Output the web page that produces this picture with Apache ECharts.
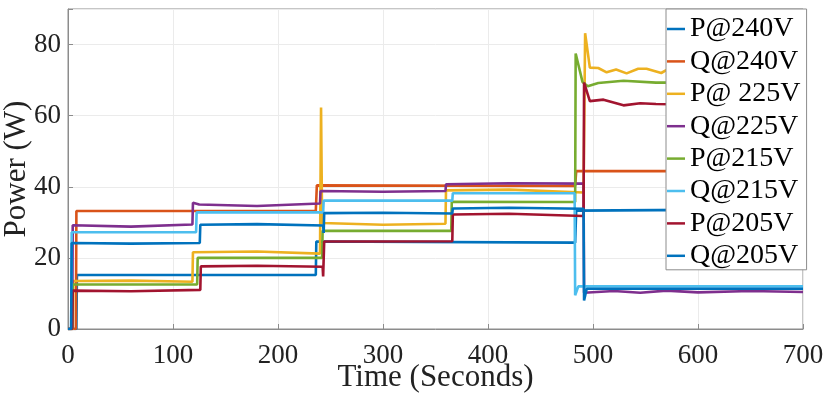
<!DOCTYPE html>
<html style="height: 100%">
<head>
  <meta charset="utf-8">
  <script src="https://cdn.jsdelivr.net/npm/echarts@6/dist/echarts.min.js"></script>
</head>
<body style="height: 100%; margin: 0; background: #fff">
<div id="chart" style="width: 830px; height: 394px"></div>
<script>
  // [time (s), power (W)]
  var p240 = [[0,0],[8,0],[8.5,15.2],[236,15.2],[236.5,24.6],[483,24.3],[484,33.3],[600,33.5],[700,33.4]];
  var q240 = [[0,0],[7.5,0],[8,33.2],[236,33.2],[237,40.4],[483,40.2],[484,44.4],[700,44.4]];
  var p225 = [[0,0],[4.5,0],[5,13.5],[60,13.6],[118.5,13.3],[119,21.6],[180,21.8],[240,21.2],[241,62.3],[242,29.8],
              [300,29.3],[359.5,29.6],[360,39.0],[420,39.2],[491,38.4],[492.5,83.2],[497,73.5],[505,73.4],[513,72.2],
              [522,73.0],[532,71.9],[543,73.2],[551,73.2],[565,72.0],[571,73.0],[620,72.5],[700,72.6]];
  var q225 = [[0,0],[4,0],[4.5,29.2],[60,28.8],[118.5,29.4],[119,35.5],[125,35.0],[180,34.6],[240,35.3],[240.5,38.8],
              [300,38.6],[359.5,38.8],[360,40.7],[420,41.0],[491,40.9],[491.5,10.2],[520,10.7],[545,10.2],[570,10.8],
              [600,10.3],[650,10.7],[700,10.4]];
  var p215 = [[0,0],[4,0],[4.5,12.5],[123,12.5],[123.5,20.0],[242,20.0],[242.5,27.6],[365,27.6],[365.5,35.8],[483,35.7],
              [483.5,77.5],[490,69.5],[495,68.3],[505,69.2],[529,69.8],[560,69.3],[700,69.4]];
  var q215 = [[0,0],[3,0],[3.5,27.2],[122,27.2],[122.5,32.8],[243,32.8],[243.5,36.1],[366,36.1],[366.5,38.2],[482.5,38.2],
              [483,9.5],[486,12.0],[700,12.0]];
  var p205 = [[0,0],[4,0],[4.5,10.8],[60,10.6],[126,11.0],[126.5,17.6],[180,17.8],[242.5,17.5],[243,14.8],[244,24.6],
              [300,24.6],[366,24.7],[366.5,32.2],[420,32.4],[491,31.8],[491.5,69.3],[497,64.1],[510,64.5],[529,62.9],
              [545,63.5],[560,63.3],[600,63.1],[700,63.2]];
  var q205 = [[0,0],[3,0],[3.5,24.2],[60,24.0],[125.5,24.2],[126,29.3],[180,29.5],[243,29.1],[243.5,27.0],[244,32.6],
              [300,32.7],[366,32.5],[366.5,33.9],[420,34.1],[491,33.8],[491.5,8.0],[494,11.3],[700,11.3]];

  var names = ['P@240V', 'Q@240V', 'P@ 225V', 'Q@225V', 'P@215V', 'Q@215V', 'P@205V', 'Q@205V'];
  var colors = ['#0072BD', '#D95319', '#EDB120', '#7E2F8E', '#77AC30', '#4DBEEE', '#A2142F', '#0072BD'];
  var seriesData = [p240, q240, p225, q225, p215, q215, p205, q205];

  var font = 'Liberation Serif, Times New Roman, serif';
  var chart = echarts.init(document.getElementById('chart'));

  var series = [];
  for (var i = 0; i < names.length; i++) {
    series.push({
      name: names[i],
      type: 'line',
      data: seriesData[i],
      symbol: 'none',
      color: colors[i],
      lineStyle: {width: 2.6, color: colors[i]},
      animation: false
    });
  }

  var option = {
    animation: false,
    grid: {
      left: 68, right: 27, top: 9, bottom: 65,
      containLabel: false,
      outerBoundsMode: 'none',
      show: true, borderColor: '#8c8c8c', borderWidth: 1
    },
    legend: {
      orient: 'vertical',
      left: 666, top: 9,
      width: 137,
      icon: 'rect',
      itemWidth: 18, itemHeight: 2.5,
      itemGap: 4.4,
      itemTextGap: 2,
      padding: [6, 6, 0, 1],
      backgroundColor: '#fff',
      borderColor: '#8c8c8c', borderWidth: 1,
      textStyle: {fontFamily: font, fontSize: 28, color: '#000'}
    },
    xAxis: {
      type: 'value',
      min: 0, max: 700, interval: 100,
      name: 'Time (Seconds)',
      nameLocation: 'middle',
      nameGap: 33,
      nameMoveOverlap: false,
      nameTextStyle: {fontFamily: font, fontSize: 31, color: '#222'},
      axisLine: {lineStyle: {color: '#8c8c8c'}},
      axisTick: {inside: true, length: 5, lineStyle: {color: '#8c8c8c'}},
      axisLabel: {fontFamily: font, fontSize: 27, color: '#222', margin: 13},
      splitLine: {lineStyle: {color: '#ebebeb'}}
    },
    yAxis: {
      type: 'value',
      min: 0, max: 90, interval: 20,
      name: 'Power (W)',
      nameLocation: 'middle',
      nameGap: 36,
      nameMoveOverlap: false,
      nameTextStyle: {fontFamily: font, fontSize: 31, color: '#222'},
      axisLine: {show: true, lineStyle: {color: '#8c8c8c'}},
      axisTick: {show: true, inside: true, length: 5, lineStyle: {color: '#8c8c8c'}},
      axisLabel: {fontFamily: font, fontSize: 27, color: '#222', margin: 7,
        formatter: function (v) { return v % 20 === 0 ? v : ''; }},
      splitLine: {lineStyle: {color: '#ebebeb'}}
    },
    series: series
  };
  chart.setOption(option);
</script>
</body>
</html>
